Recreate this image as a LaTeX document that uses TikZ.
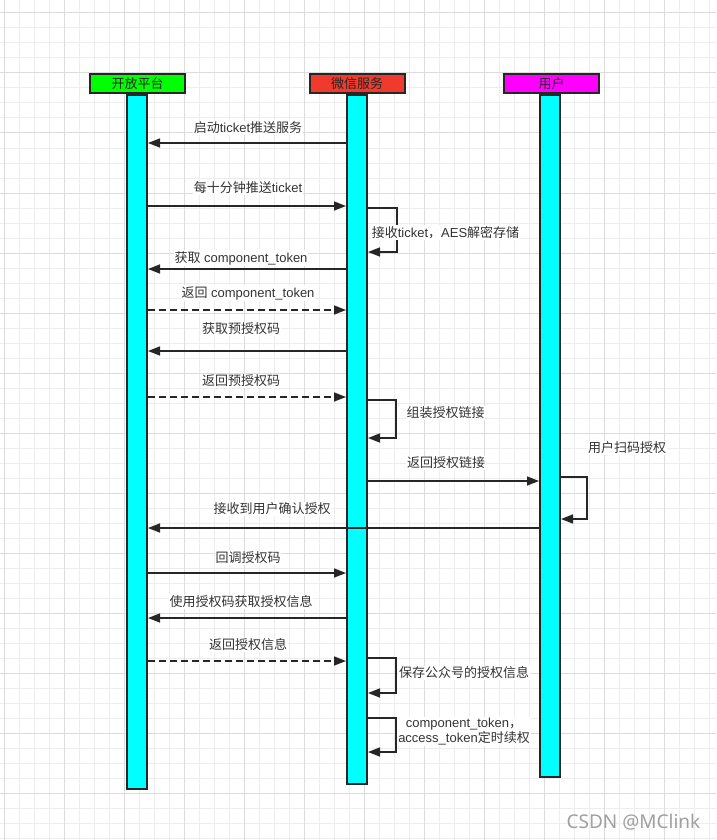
\documentclass[tikz,border=0pt]{standalone}
\usepackage{fontspec}
\setmainfont{Liberation Sans}
\newfontfamily\cjk{Noto Sans CJK SC}
\newfontfamily\wmfont{Noto Sans}
\usetikzlibrary{arrows.meta}
\definecolor{lineclr}{HTML}{262626}
\definecolor{txtclr}{HTML}{333333}
\definecolor{gridminor}{HTML}{EDEDED}
\definecolor{gridmajor}{HTML}{DCDCDC}
\definecolor{hgreen}{HTML}{00FF00}
\definecolor{hred}{HTML}{F03A2D}
\definecolor{hmag}{HTML}{FF00FF}
\definecolor{barclr}{HTML}{00FFFF}
\definecolor{wmclr}{HTML}{A0A0A0}
\tikzset{
  lifebar/.style={draw=lineclr, line width=2pt, fill=barclr, minimum width=20pt, inner sep=0pt, anchor=north},
  headbox/.style={draw=lineclr, line width=2pt, minimum width=95pt, minimum height=19pt, inner sep=0pt, text=lineclr, font=\cjk\fontsize{13}{15}\selectfont},
  msg/.style={draw=lineclr, line width=1.5pt, -{Triangle[length=12pt,width=9pt]}},
  retmsg/.style={msg, dash pattern=on 7pt off 4pt},
  lbl/.style={fill=white, inner sep=0.8pt, text=txtclr, font=\fontsize{13}{15}\selectfont, align=center},
}
\begin{document}
\begin{tikzpicture}[x=1pt,y=-1pt]
\useasboundingbox (0,0) rectangle (716,840);
\fill[white] (0,0) rectangle (716,840);
% grid
\foreach \gx in {4,19,...,716} \draw[gridminor, line width=1pt] (\gx,0) -- (\gx,840);
\foreach \gy in {13,28,...,840} \draw[gridminor, line width=1pt] (0,\gy) -- (716,\gy);
\foreach \gx in {4,64,...,716} \draw[gridmajor, line width=1pt] (\gx,0) -- (\gx,840);
\foreach \gy in {13,73,...,840} \draw[gridmajor, line width=1pt] (0,\gy) -- (716,\gy);

% lifelines
\node[lifebar, minimum height=694pt] (b1) at (137,94) {};
\node[lifebar, minimum height=689pt] (b2) at (357,94) {};
\node[lifebar, minimum height=682pt] (b3) at (550,94) {};
\node[headbox, fill=hgreen] (h1) at (137.5,83.5) {开放平台};
\node[headbox, fill=hred] (h2) at (357,83.5) {微信服务};
\node[headbox, fill=hmag] (h3) at (551.5,83.5) {用户};

% message levels
\coordinate (m1) at (0,143);
\coordinate (m2) at (0,206);
\coordinate (m4) at (0,269);
\coordinate (m5) at (0,310);
\coordinate (m6) at (0,351);
\coordinate (m7) at (0,397);
\coordinate (m9) at (0,481);
\coordinate (m11) at (0,528);
\coordinate (m12) at (0,573);
\coordinate (m13) at (0,618);
\coordinate (m14) at (0,661);
% self-loop levels
\coordinate (s3a) at (0,208);  \coordinate (s3b) at (0,252);
\coordinate (s8a) at (0,400);  \coordinate (s8b) at (0,438);
\coordinate (s10a) at (0,477); \coordinate (s10b) at (0,519);
\coordinate (s15a) at (0,658); \coordinate (s15b) at (0,693);
\coordinate (s16a) at (0,718); \coordinate (s16b) at (0,752);

% messages
\draw[msg] (b2.west |- m1) -- (b1.east |- m1);
\draw[msg] (b1.east |- m2) -- (b2.west |- m2);
\draw[msg] (b2.east |- s3a) -- ++(29,0) |- (b2.east |- s3b);
\draw[msg] (b2.west |- m4) -- (b1.east |- m4);
\draw[retmsg] (b1.east |- m5) -- (b2.west |- m5);
\draw[msg] (b2.west |- m6) -- (b1.east |- m6);
\draw[retmsg] (b1.east |- m7) -- (b2.west |- m7);
\draw[msg] (b2.east |- s8a) -- ++(28,0) |- (b2.east |- s8b);
\draw[msg] (b2.east |- m9) -- (b3.west |- m9);
\draw[msg] (b3.east |- s10a) -- ++(26,0) |- (b3.east |- s10b);
\draw[msg] (b3.west |- m11) -- (b1.east |- m11);
\draw[msg] (b1.east |- m12) -- (b2.west |- m12);
\draw[msg] (b2.west |- m13) -- (b1.east |- m13);
\draw[retmsg] (b1.east |- m14) -- (b2.west |- m14);
\draw[msg] (b2.east |- s15a) -- ++(28,0) |- (b2.east |- s15b);
\draw[msg] (b2.east |- s16a) -- ++(28,0) |- (b2.east |- s16b);

% labels
\node[lbl] (l1) at (248,128) {{\cjk 启动}ticket{\cjk 推送服务}};
\node[lbl] (l2) at (248,188) {{\cjk 每十分钟推送}ticket};
\node[lbl] (l3) at (445.5,232.5) {{\cjk 接收}ticket{\cjk ，}AES{\cjk 解密存储}};
\node[lbl] (l4) at (241,258) {{\cjk 获取} component\_token};
\node[lbl] (l5) at (248,293) {{\cjk 返回} component\_token};
\node[lbl] (l6) at (241,329) {\cjk 获取预授权码};
\node[lbl] (l7) at (241,381) {\cjk 返回预授权码};
\node[lbl] (l8) at (445.5,413) {\cjk 组装授权链接};
\node[lbl] (l9) at (446,463) {\cjk 返回授权链接};
\node[lbl] (l10) at (627,448) {\cjk 用户扫码授权};
\node[lbl] (l11) at (272,509) {\cjk 接收到用户确认授权};
\node[lbl] (l12) at (248,558) {\cjk 回调授权码};
\node[lbl] (l13) at (241,602) {\cjk 使用授权码获取授权信息};
\node[lbl] (l14) at (248,645) {\cjk 返回授权信息};
\node[lbl] (l15) at (464,673) {\cjk 保存公众号的授权信息};
\node[lbl, font=\fontsize{13}{15.5}\selectfont] (l16) at (464,731.5) {component\_token{\cjk ，}\\access\_token{\cjk 定时续权}};

% watermark
\node[text=wmclr, font=\wmfont\fontsize{19}{22}\selectfont, inner sep=0pt] (wm) at (633.5,822) {CSDN @MClink};
\end{tikzpicture}
\end{document}
